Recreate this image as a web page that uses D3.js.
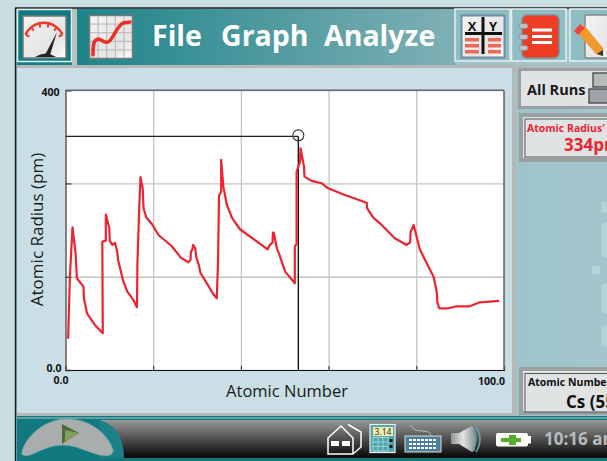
<!DOCTYPE html>
<html>
<head>
<meta charset="utf-8">
<script src="https://cdn.jsdelivr.net/npm/d3@7"></script>
<style>
html, body { margin: 0; padding: 0; background: #c8dee3; overflow: hidden; }
text { font-family: "Open Sans", "Noto Sans", sans-serif; }
</style>
</head>
<body>
<script>
// atomic radius trace
var atomicNumber = [0.6, 1.0, 1.6, 2.3, 2.6, 4.1, 4.2, 4.9, 6.7, 8.5, 8.4, 9.2, 9.2, 10.0, 10.1, 10.7, 11.3, 11.8, 12.0, 13.2, 14.1, 15.5, 16.3, 16.4, 16.8, 17.1, 17.6, 17.8, 18.4, 19.7, 21.2, 24.2, 26.3, 28.0, 28.5, 28.6, 28.9, 29.1, 29.6, 29.8, 30.4, 30.8, 32.0, 33.7, 34.5, 34.8, 35.0, 35.5, 35.5, 36.0, 36.8, 38.0, 39.8, 46.1, 46.6, 47.2, 47.3, 47.5, 48.2, 48.8, 50.1, 52.3, 52.3, 52.7, 52.7, 53.5, 53.6, 54.4, 54.5, 56.1, 58.4, 59.9, 63.7, 68.7, 68.8, 70.2, 72.1, 75.1, 77.8, 78.6, 78.7, 79.4, 80.8, 82.0, 84.0, 84.7, 84.8, 85.2, 87.3, 89.2, 92.2, 94.5, 98.9];
var atomicRadius = [44.8, 133.4, 204, 166.9, 131.1, 119.1, 102.5, 81.1, 64.4, 52.5, 183.5, 184.9, 222.1, 202.6, 184.5, 178.8, 181.6, 169.2, 157.3, 126.3, 112, 100, 89.7, 152.6, 228.8, 275.6, 259.8, 231.2, 218.4, 208.8, 193, 177.3, 160.6, 154, 157.3, 169.2, 171.6, 178.8, 174, 162, 150.2, 138.3, 126.3, 108.7, 102.5, 157.3, 248.8, 255, 300.3, 262.1, 236, 217, 201.2, 172.6, 178.8, 182, 196.3, 196.3, 174, 164.5, 140.6, 124, 176.3, 180.2, 283.6, 297.9, 317, 290.7, 276.4, 270.3, 267, 259.8, 250.3, 239.2, 231.2, 217.8, 207.4, 188.3, 178.8, 182.6, 196.9, 207.4, 172.6, 157.3, 132.6, 109.7, 97.7, 88.2, 88.2, 91.1, 91.1, 96.8, 98.7];
var xTicks = [0, 20, 40, 60, 80, 100];
var yTicks = [0, 133.3, 266.7, 400];
var yTickLabels = ['0.0', '', '', '400'];
var xTickLabels = ['0.0', '', '', '', '', '100.0'];
var cursorX = 53.1;
var cursorY = 334;
var menuLabels = ['File', 'Graph', 'Analyze'];

var width = 607;
var height = 461;

var svg = d3.select('body')
    .append('svg')
    .attr('width', width)
    .attr('height', height)
    .style('display', 'block');

var defs = svg.append('defs');

function gradient(id, x2, y2, stops) {
    var g = defs.append('linearGradient').attr('id', id)
        .attr('x1', 0).attr('y1', 0).attr('x2', x2).attr('y2', y2);
    stops.forEach((s) => {
        g.append('stop').attr('offset', s[0]).attr('stop-color', s[1]);
    })
}
gradient('topbar', 1, 0, [[0, '#0e7d83'], [1, '#7fb0b5']]);
gradient('column', 1, 0, [[0, '#8bb9c0'], [1, '#a2c6cb']]);
gradient('dock', 0, 1, [[0, '#989898'], [1, '#050505']]);
gradient('tile', 1, 1, [[0, '#f4f4f4'], [0.7, '#e4e4e4'], [1, '#ffffff']]);
gradient('cone', 1, 0, [[0, '#8f9494'], [0.5, '#e2e4e4'], [1, '#8d9292']]);

function rect(x, y, w, h, fill, stroke, sw, rx) {
    return svg.append('rect')
        .attr('x', x).attr('y', y).attr('width', w).attr('height', h)
        .attr('fill', fill)
        .attr('stroke', stroke || 'none')
        .attr('stroke-width', sw || 0)
        .attr('rx', rx || 0);
}

function line(x1, y1, x2, y2, color, sw) {
    return svg.append('line')
        .attr('x1', x1).attr('y1', y1).attr('x2', x2).attr('y2', y2)
        .attr('stroke', color).attr('stroke-width', sw);
}

function label(x, y, str, size, color, weight, anchor) {
    return svg.append('text')
        .attr('x', x).attr('y', y)
        .attr('font-size', size)
        .attr('font-weight', weight || 'normal')
        .attr('fill', color)
        .attr('text-anchor', anchor || 'start')
        .text(str);
}

// frame
rect(15, 8, 592, 453, 'url(#column)');
line(15.5, 8, 15.5, 461, '#222', 1.5);
line(15, 8, 607, 8, '#222', 1.5);

// top bar
rect(17, 9, 438, 56, 'url(#topbar)');
rect(17, 65, 590, 3, '#b4b8b8');

// gauge button
rect(17.5, 9.5, 54, 52, '#0e7d83', '#e8eeee', 1.5);
rect(72, 9, 5, 56, '#b8c4c4');
rect(23, 16, 43, 42, 'url(#tile)', '#777', 1.5);
var gaugeArc = d3.arc().innerRadius(19).outerRadius(21.5).startAngle(-1.15).endAngle(1.15);
svg.append('path').attr('d', gaugeArc()).attr('transform', 'translate(44,43)').attr('fill', '#ee3a2e');
d3.range(-1.15, 1.16, 0.46).forEach((a) => {
    line(44 + 20 * Math.sin(a), 43 - 20 * Math.cos(a), 44 + 16 * Math.sin(a), 43 - 16 * Math.cos(a), '#ee3a2e', 2);
})
svg.append('path').attr('d', 'M45 55L57 32L50 55Z').attr('fill', '#222');
svg.append('path').attr('d', 'M35 57Q46 50 56 57Z').attr('fill', '#222');

// mini graph button
rect(89.5, 15.5, 43, 43, 'url(#tile)', '#777', 1.5);
d3.range(1, 5).forEach((i) => {
    line(89.5 + i * 8.6, 16, 89.5 + i * 8.6, 58, '#b5b5b5', 1);
    line(90, 15.5 + i * 8.6, 132, 15.5 + i * 8.6, '#b5b5b5', 1);
})
svg.append('path').attr('d', 'M93 55C93 47 93 42 96 40C100 36 103 44 108 42C113 40 116 27 123 23L130 22')
    .attr('fill', 'none').attr('stroke', '#ee3024').attr('stroke-width', 3.5).attr('stroke-linecap', 'round');

// menu text
var menuX = [152, 221, 324];
menuLabels.forEach((t, i) => {
    label(menuX[i], 46, t, 28.5, '#fff', 'bold').attr('font-family', '"Noto Sans"');
})

// table button
rect(455, 9, 55, 52, '#8fbdc4', '#e8eeee', 1.5);
rect(461.5, 15.5, 43, 42, 'url(#tile)', '#6c8ea8', 2);
line(483, 17, 483, 54, '#111', 3);
line(465, 33.5, 502, 33.5, '#111', 3);
label(472, 31, 'X', 13, '#111', 'bold', 'middle');
label(493, 31, 'Y', 13, '#111', 'bold', 'middle');
[38, 44, 50].forEach((y) => {
    rect(465, y, 14, 3.5, '#ee6a58');
    rect(488, y, 13, 3.5, '#ee6a58');
})

// notebook button
rect(511.5, 9, 54.5, 52, '#8fbdc4', '#e8eeee', 1.5);
rect(522, 15, 37, 43, '#ee3d24', '#888', 1.5, 5);
[28.5, 35, 41].forEach((y) => {
    rect(532, y, 20, 3, '#fff');
});
[26, 37, 48].forEach((y) => {
    rect(519, y - 2.5, 9, 5, '#b8c4c8', '#777', 0.5, 2.5);
});

// pencil button
rect(570, 9, 40, 52, '#8fbdc4', '#e8eeee', 1.5);
rect(585, 15, 30, 43, 'url(#tile)', '#888', 1.5, 2);
svg.append('path').attr('d', 'M577 32L584 25L603 48L603 56L596 54Z').attr('fill', '#f0992e');
svg.append('path').attr('d', 'M574 31L580 24L585 28L578 35Z').attr('fill', '#e8453a');
svg.append('path').attr('d', 'M603 50L603 56L597 54Z').attr('fill', '#333');

// graph panel
rect(17, 68, 495, 345, '#c9dfe5');
rect(512, 66, 4, 350, '#b4b8b8');
rect(17, 413, 499, 3, '#b4b8b8');

// faint lettering on the right column
var ghost = svg.append('g').attr('fill', '#b4d3d7');
rect(592, 266, 8, 8, '#b4d3d7');
ghost.append('path').attr('d', 'M607 201L601 203L601 212L607 213ZM607 222L601 224L601 256L607 258ZM607 283L601 285L601 312L607 314ZM607 325L601 327L601 345L607 347Z');

// plot
var plotLeft = 65.5;
var plotRight = 504;
var plotTop = 90.2;
var plotBottom = 370;

var x = d3.scaleLinear()
    .domain([0, 100])
    .range([plotLeft, plotRight]);

var y = d3.scaleLinear()
    .domain([0, 400])
    .range([plotBottom, plotTop]);

rect(plotLeft, plotTop, plotRight - plotLeft, plotBottom - plotTop, '#fff');

var xGrid = d3.axisBottom(x).tickValues(xTicks).tickSize(plotTop - plotBottom).tickFormat('');
var yGrid = d3.axisLeft(y).tickValues(yTicks).tickSize(plotLeft - plotRight).tickFormat('');

svg.append('g').attr('class', 'xGrid')
    .attr('transform', 'translate(0,' + plotBottom + ')')
    .call(xGrid);
svg.append('g').attr('class', 'yGrid')
    .attr('transform', 'translate(' + plotLeft + ',0)')
    .call(yGrid);
svg.selectAll('.xGrid .domain, .yGrid .domain').remove();
svg.selectAll('.xGrid line, .yGrid line').attr('stroke', '#c4c4c4').attr('stroke-width', 1.3);

var xAxis = d3.axisBottom(x)
    .tickValues(xTicks)
    .tickSize(-4)
    .tickFormat((d, i) => xTickLabels[i]);
var yAxis = d3.axisLeft(y)
    .tickValues(yTicks)
    .tickSize(-6)
    .tickFormat((d, i) => yTickLabels[i]);

var xAxisGroup = svg.append('g')
    .attr('class', 'xAxisGroup')
    .attr('transform', 'translate(0,' + plotBottom + ')')
    .call(xAxis);
var yAxisGroup = svg.append('g')
    .attr('class', 'yAxisGroup')
    .attr('transform', 'translate(' + plotLeft + ',0)')
    .call(yAxis);

xAxisGroup.select('.domain').attr('stroke', '#111').attr('stroke-width', 1.2);
yAxisGroup.select('.domain').attr('stroke', '#666').attr('stroke-width', 1.5);
xAxisGroup.selectAll('line').attr('stroke', '#222');
yAxisGroup.selectAll('line').attr('stroke', '#222');
xAxisGroup.selectAll('text')
    .attr('font-family', '"Open Sans"').attr('font-size', 10.5).attr('font-weight', 'bold').attr('fill', '#111')
    .attr('y', (d) => d == 0 ? 6.5 : 8)
    .attr('text-anchor', 'end')
    .attr('dx', (d) => d == 0 ? 2.5 : 0.5);
yAxisGroup.selectAll('text')
    .attr('font-family', '"Open Sans"').attr('font-size', 10.5).attr('font-weight', 'bold').attr('fill', '#111')
    .attr('x', (d) => d == 0 ? -4 : -6)
    .attr('dy', (d) => d == 0 ? 1 : 5.5);

// plot frame top and right
line(plotLeft, plotTop, plotRight, plotTop, '#666', 1.5);
line(plotRight, plotTop, plotRight, plotBottom, '#666', 1.5);

// cursor cross hair
line(plotLeft, y(cursorY), x(cursorX), y(cursorY), '#222', 1.2);
line(x(cursorX), y(cursorY), x(cursorX), plotBottom, '#111', 1.4);
svg.append('circle')
    .attr('cx', x(cursorX)).attr('cy', y(cursorY) - 1).attr('r', 5.5)
    .attr('fill', 'none').attr('stroke', '#333').attr('stroke-width', 1.1);

// the trace
var trace = d3.line()
    .x((d, i) => x(atomicNumber[i]))
    .y((d, i) => y(atomicRadius[i]));

svg.append('path')
    .data([atomicNumber])
    .attr('fill', 'none')
    .attr('stroke', '#ee2330')
    .attr('stroke-width', 2.2)
    .attr('stroke-linejoin', 'round')
    .attr('d', trace);

// axis titles
label(287, 397, 'Atomic Number', 16.5, '#1a1a1a', 'normal', 'middle');
label(0, 0, 'Atomic Radius (pm)', 17, '#1a1a1a', 'normal', 'middle')
    .attr('transform', 'translate(43,229.5) rotate(-90)');

// right column
rect(519.5, 69.5, 95, 38, '#e0e3e4', '#9aa0a0', 3);
label(527, 95, 'All Runs', 14.5, '#1a1a1a', 'bold').attr('font-family', '"Noto Sans"');
rect(593, 73, 20, 14, '#b5babb', '#555', 1.5);
rect(589, 89, 24, 14, '#9ea4a6', '#555', 1.5);

rect(521, 115, 95, 45, '#e0e3e4', '#9aa0a0', 4);
rect(525, 119, 90, 38, '#e0e3e4', '#555', 1);
label(527, 132, "Atomic Radius'", 10.5, '#ee2330', 'bold').attr('font-family', '"Noto Sans"');
label(564, 151, '334pm', 17, '#ee2330', 'bold').attr('font-family', '"Noto Sans"');

rect(521, 369, 95, 44, '#e0e3e4', '#9aa0a0', 4);
rect(525, 373.5, 90, 38.5, '#e0e3e4', '#555', 1);
label(528, 386, 'Atomic Number', 10.5, '#111', 'bold').attr('font-family', '"Noto Sans"');
label(566, 408, 'Cs (55', 17, '#111', 'bold').attr('font-family', '"Noto Sans"');

// dock
rect(17, 416, 590, 45, '#11797f');
rect(17, 417, 590, 2, '#5fa0a5');
rect(100, 420, 507, 38, 'url(#dock)');
svg.append('path').attr('d', 'M100 420Q124 428 124 458L100 458Z').attr('fill', '#1a8188');
svg.append('path')
    .attr('d', 'M22 452C26 436 45 419 67 419C90 419 108 434 113 450C113 456 108 456 100 455C85 451 75 445 63 445C50 445 40 451 30 455C25 456 21 456 22 452Z')
    .attr('fill', '#a9adad').attr('stroke', '#7fa9ad').attr('stroke-width', 0.8);
svg.append('path').attr('d', 'M62 424L79 433L62 444Z').attr('fill', '#4f6a38');
svg.append('path').attr('d', 'M65 430L79 433L62 444L65 441Z').attr('fill', '#7f9f5a');

// home icon
svg.append('path').attr('d', 'M328 438L341 426L353 438L353 454L328 454ZM348 424.5L361 432L361 447L353 454')
    .attr('fill', 'none').attr('stroke', '#fff').attr('stroke-width', 1.5);
rect(331, 441, 8, 5, '#fff');
rect(342, 441, 8, 5, '#fff');
// calculator icon
rect(370, 424.5, 25, 28, '#4da5ae', '#eee', 1.2);
rect(373, 427, 20, 9, '#f0eeb0');
label(383, 435, '3.14', 8.5, '#222', 'normal', 'middle');
d3.range(0, 4).forEach((i) => {
    line(373 + i * 5, 437, 373 + i * 5, 451, '#9fd2d6', 1);
    line(373, 437.5 + i * 4.5, 388, 437.5 + i * 4.5, '#9fd2d6', 1);
})
rect(389.5, 439, 3, 3, '#111');
rect(389.5, 445, 3, 3, '#111');
// keyboard icon
rect(405, 436, 36, 16, '#4a7f9c', '#ddd', 1);
[440, 444, 448].forEach((y) => {
    line(409, y, 437, y, '#fff', 2).attr('stroke-dasharray', '3 1');
});
svg.append('path').attr('d', 'M411 425Q413 431 422 431Q431 431 431 436').attr('fill', 'none').attr('stroke', '#bbb').attr('stroke-width', 1);
// speaker icon
svg.append('path').attr('d', 'M451 433L459 433L472 426L475 430L475 450L472 452L459 444L451 444Z').attr('fill', 'url(#cone)');
svg.append('path').attr('d', 'M473 429Q479 439 473 450').attr('fill', 'none').attr('stroke', '#5fa0a5').attr('stroke-width', 1.6);
svg.append('path').attr('d', 'M476 427Q484 439 476 452').attr('fill', 'none').attr('stroke', '#5fa0a5').attr('stroke-width', 1.6);
// battery icon
rect(496, 433, 32, 13.5, '#fff', null, 0, 2);
rect(528, 436, 3, 7.5, '#fff');
svg.append('path').attr('d', 'M501 438L509 438L509 435L516 435L516 438L521 438L521 442L516 442L516 445L509 445L509 442L501 442Z').attr('fill', '#5cab2e');

label(544, 445, '10:16 am', 17, '#b4bcbc', 'bold').attr('font-family', '"Noto Sans"');
</script>
</body>
</html>
